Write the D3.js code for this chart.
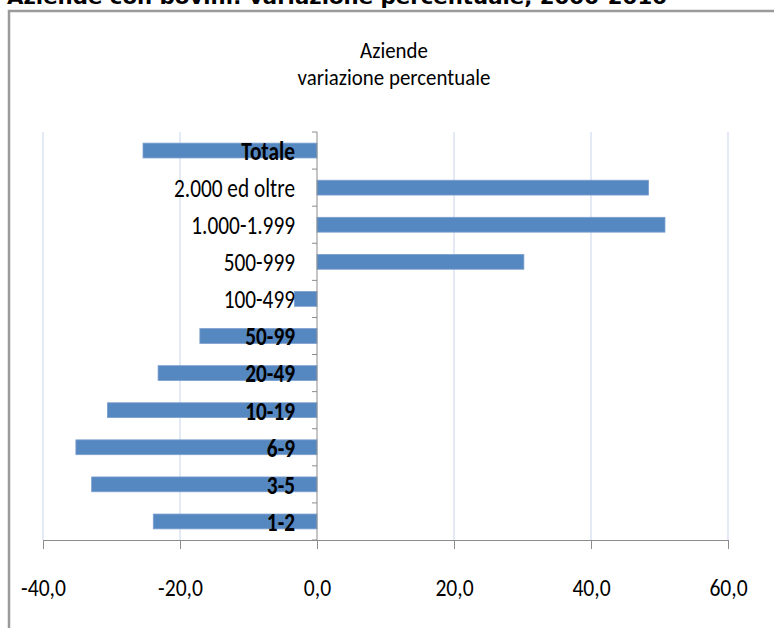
<!DOCTYPE html>
<html>
<head>
<meta charset="utf-8">
<script src="https://cdn.jsdelivr.net/npm/d3@7"></script>
<style>
  html, body { margin: 0; padding: 0; background: #fff; }
  svg { display: block; }
  .narrow { font-family: Carlito, "Liberation Sans Narrow", "Liberation Sans", sans-serif; }
</style>
</head>
<body>
<svg id="chart" width="774" height="628"></svg>
<script>
// Classi di dimensione (capi bovini) dall'alto verso il basso
const categories = ["Totale", "2.000 ed oltre", "1.000-1.999", "500-999", "100-499",
                    "50-99", "20-49", "10-19", "6-9", "3-5", "1-2"];
// Variazione percentuale del numero di aziende
const values = [-25.4, 48.4, 50.8, 30.2, -3.3, -17.1, -23.2, -30.6, -35.2, -32.9, -23.9];
// Valori dell'asse orizzontale
const xTicks = [-40, -20, 0, 20, 40, 60];

const pageTitle = "Aziende con bovini: variazione percentuale, 2000-2010";
const chartTitle = ["Aziende", "variazione percentuale"];

const svg = d3.select("#chart");

// Titolo della pagina, tagliato dal bordo superiore
svg.append("text")
  .attr("x", 7).attr("y", 4)
  .attr("font-family", "'DejaVu Sans', Verdana, sans-serif")
  .attr("font-weight", "bold")
  .attr("font-size", 20)
  .attr("textLength", 660)
  .attr("lengthAdjust", "spacingAndGlyphs")
  .attr("fill", "#000")
  .text(pageTitle);

// Cornice del grafico
svg.append("path")
  .attr("d", "M9,628 V11 H774")
  .attr("fill", "none")
  .attr("stroke", "#9a9a9a")
  .attr("stroke-width", 2.5);

// Titolo del grafico (carattere leggermente compresso in orizzontale)
[[chartTitle[0], 58], [chartTitle[1], 85]].forEach(([t, yy]) => {
  svg.append("text").attr("class", "narrow")
    .attr("transform", `translate(394,${yy}) scale(0.95,1)`)
    .attr("text-anchor", "middle").attr("font-size", 22)
    .attr("fill", "#000")
    .text(t);
});

const plot = { left: 43, right: 728, top: 132, bottom: 540 };

const x = d3.scaleLinear().domain([-40, 60]).range([plot.left, plot.right]);
const y = d3.scaleBand().domain(categories).range([plot.top, plot.bottom]).paddingInner(0.6).paddingOuter(0.3);

// Griglia verticale
svg.append("g")
  .selectAll("line")
  .data(xTicks.filter(d => d !== 0))
  .join("line")
  .attr("x1", d => x(d)).attr("x2", d => x(d))
  .attr("y1", plot.top).attr("y2", plot.bottom)
  .attr("stroke", "#dae2f2")
  .attr("stroke-width", 1.5);

// Barre
svg.append("g")
  .selectAll("rect")
  .data(values)
  .join("rect")
  .attr("x", d => x(Math.min(0, d)))
  .attr("width", d => Math.abs(x(d) - x(0)))
  .attr("y", (d, i) => y(categories[i]))
  .attr("height", y.bandwidth())
  .attr("fill", "#5587c0")
  .attr("stroke", "#7da0cf")
  .attr("stroke-width", 0.8);

// Asse orizzontale (formato italiano con virgola decimale)
const xAxis = svg.append("g")
  .attr("transform", `translate(0,${plot.bottom})`)
  .call(d3.axisBottom(x).tickValues(xTicks).tickSize(9).tickPadding(30)
        .tickFormat(d => d.toFixed(1).replace(".", ",")));
xAxis.select(".domain").attr("stroke", "#8c8c8c");
xAxis.selectAll(".tick line").attr("stroke", "#8c8c8c");
xAxis.selectAll(".tick text")
  .attr("class", "narrow")
  .attr("font-size", 24)
  .attr("transform", "scale(0.9,1)")
  .attr("fill", "#000");

// Asse verticale sullo zero, con tacche ai confini delle classi
const yTickPos = d3.range(categories.length + 1)
  .map(i => plot.top + i * (plot.bottom - plot.top) / categories.length);
svg.append("line")
  .attr("x1", x(0)).attr("x2", x(0))
  .attr("y1", plot.top).attr("y2", plot.bottom)
  .attr("stroke", "#8c8c8c");
svg.append("g")
  .selectAll("line")
  .data(yTickPos)
  .join("line")
  .attr("x1", x(0) - 5).attr("x2", x(0))
  .attr("y1", d => d).attr("y2", d => d)
  .attr("stroke", "#8c8c8c");

// Etichette delle classi
svg.append("g")
  .selectAll("text")
  .data(categories)
  .join("text")
  .attr("class", "narrow")
  .attr("transform", d => `translate(${x(0) - 22},${y(d) + y.bandwidth() / 2}) scale(0.82,1)`)
  .attr("dy", "0.36em")
  .attr("text-anchor", "end")
  .attr("font-size", 26)
  .attr("font-weight", (d, i) => values[i] < -10 ? "bold" : "normal")
  .attr("fill", "#000")
  .text(d => d);
</script>
</body>
</html>
